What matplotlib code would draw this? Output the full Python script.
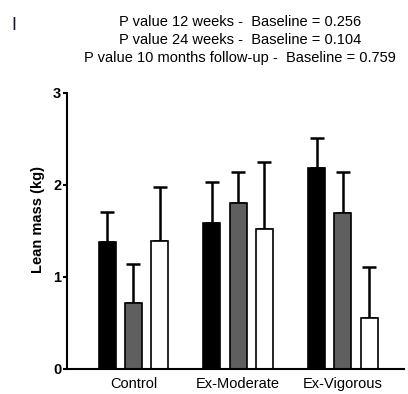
import numpy as np
import matplotlib.pyplot as plt

plt.rcParams["font.family"] = ["Liberation Sans", "DejaVu Sans"]

groups = ["Control", "Ex-Moderate", "Ex-Vigorous"]
series_names = ["Baseline", "12 weeks", "24 weeks"]
means = [
    [1.38, 1.58, 2.18],
    [0.72, 1.80, 1.69],
    [1.39, 1.52, 0.55],
]
errs = [
    [0.33, 0.45, 0.33],
    [0.42, 0.34, 0.45],
    [0.59, 0.73, 0.56],
]
colors = ["black", "#5f5f5f", "white"]
pvalue_lines = [
    "P value 12 weeks -  Baseline = 0.256",
    "P value 24 weeks -  Baseline = 0.104",
    "P value 10 months follow-up -  Baseline = 0.759",
]

fig = plt.figure(figsize=(4.08, 3.94), dpi=100)
ax = fig.add_axes([66.7 / 408, 1 - 369 / 394, (404 - 66.7) / 408, (369 - 92.7) / 394])

x = np.arange(len(groups))
offset = 0.251
width = 0.162
for i, (vals, err, col) in enumerate(zip(means, errs, colors)):
    pos = x + (i - 1) * offset
    ax.bar(pos, vals, width=width, color=col, edgecolor="black", linewidth=1.2, zorder=2)
    ax.errorbar(pos, vals, yerr=[np.zeros(len(err)), err], fmt="none",
                ecolor="black", elinewidth=1.8, capsize=5, capthick=1.8, zorder=1)

ax.set_xlim(-0.638, 2.584)
ax.set_ylim(0, 3)
ax.set_yticks([0, 1, 2, 3])
ax.set_yticklabels(["0", "1", "2", "3"], fontweight="bold", fontsize=10.5)
ax.set_xticks(x)
ax.set_xticklabels(groups, fontsize=10.5)
ax.tick_params(axis="x", length=0, pad=6)
ax.tick_params(axis="y", length=3, width=1.5, pad=1)
for side in ["top", "right"]:
    ax.spines[side].set_visible(False)
for side in ["left", "bottom"]:
    ax.spines[side].set_linewidth(1.5)

ax.set_ylabel("Lean mass (kg)", fontweight="bold", fontsize=10.5)
ax.yaxis.set_label_coords(-0.064, 0.54)

for k, line in enumerate(pvalue_lines):
    fig.text(240 / 408, 1 - (22 + k * 18) / 394, line, ha="center", va="center", fontsize=10.5)

fig.text(11 / 408, 1 - 26 / 394, "I", ha="left", va="center", fontsize=13, color="#1a1030")

fig.savefig("out.png", dpi=100)
